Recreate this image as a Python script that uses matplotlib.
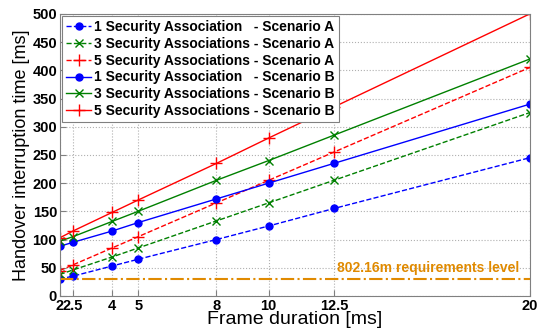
import numpy as np
import matplotlib
matplotlib.use('Agg')
import matplotlib.pyplot as plt

plt.rcParams['font.family'] = ['Liberation Sans', 'DejaVu Sans']

# frame durations [ms]
frame = [2, 2.5, 4, 5, 8, 10, 12.5, 20]

# scenario A (dashed)
a_1sa = [30, 35, 53, 65, 100, 124, 155, 245]
a_3sa = [38, 46, 69, 85, 133, 165, 205, 325]
a_5sa = [45, 55, 85, 105, 165, 205, 255, 405]

# scenario B (solid)
b_1sa = [88, 95, 115, 130, 172, 200, 235, 340]
b_3sa = [97, 105, 132, 150, 205, 240, 285, 420]
b_5sa = [103, 115, 148, 170, 235, 280, 335, 500]

requirement = 30

fig = plt.figure(figsize=(5.49, 3.31), dpi=100)
ax = fig.add_axes([0.109, 0.106, 0.856, 0.852])

ax.plot(frame, a_1sa, '--o', color='blue', ms=5, lw=1, label='1 Security Association   - Scenario A')
ax.plot(frame, a_3sa, '--x', color='green', ms=5.5, lw=1, label='3 Security Associations - Scenario A')
ax.plot(frame, a_5sa, '--+', color='red', ms=9, lw=1, label='5 Security Associations - Scenario A')
ax.plot(frame, b_1sa, '-o', color='blue', ms=5, lw=1, label='1 Security Association   - Scenario B')
ax.plot(frame, b_3sa, '-x', color='green', ms=5.5, lw=1, label='3 Security Associations - Scenario B')
ax.plot(frame, b_5sa, '-+', color='red', ms=9, lw=1, label='5 Security Associations - Scenario B')

ax.axhline(requirement, color='#e08a00', ls='-.', lw=1.5)
ax.text(19.6, requirement + 7, '802.16m requirements level', color='#e08a00',
        fontsize=10, fontweight='bold', ha='right', va='bottom')

ax.set_xlim(2, 20)
ax.set_ylim(0, 500)
ax.set_xticks(frame)
ax.set_xticklabels(['2', '2.5', '4', '5', '8', '10', '12.5', '20'])
ax.set_yticks(np.arange(0, 501, 50))
ax.tick_params(labelsize=10.5, direction='in', length=4, color='#808080', pad=2)
for lbl in ax.get_xticklabels() + ax.get_yticklabels():
    lbl.set_fontweight('bold')
ax.grid(True, ls=':', color='#b0b0b0', lw=0.8)
for s in ax.spines.values():
    s.set_color('#808080')

ax.set_xlabel('Frame duration [ms]', fontsize=14, labelpad=-1)
ax.set_ylabel('Handover interruption time [ms]', fontsize=13, labelpad=2)

leg = ax.legend(loc='upper left', prop={'weight': 'bold', 'size': 10},
                fancybox=False, framealpha=1, edgecolor='#808080',
                borderpad=0.3, labelspacing=0.2, handlelength=1.8, handletextpad=0.2,
                borderaxespad=0.15)
leg.get_frame().set_linewidth(0.8)

fig.savefig('out.png', dpi=100)
